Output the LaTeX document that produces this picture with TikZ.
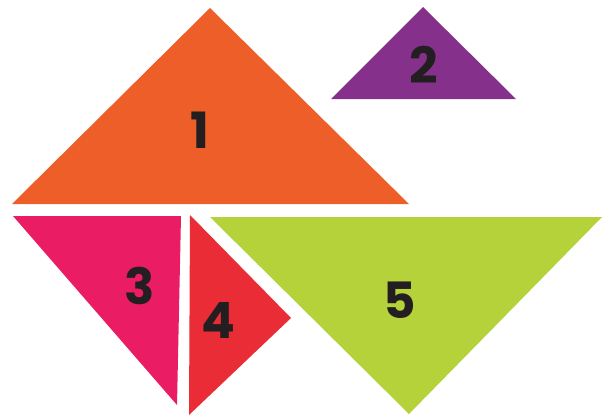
\documentclass[tikz,border=0pt]{standalone}
\usepackage{fontspec}
\setmainfont{Poppins}
\definecolor{tOrange}{HTML}{EE5E29}
\definecolor{tPurple}{HTML}{85318B}
\definecolor{tPink}{HTML}{E91C64}
\definecolor{tRed}{HTML}{E92C36}
\definecolor{tGreen}{HTML}{B5D23A}
\definecolor{tText}{HTML}{231F20}
\begin{document}
\begin{tikzpicture}[x=1pt,y=-1pt,
  num/.style={text=tText,font=\fontsize{50}{50}\selectfont\bfseries,inner sep=0pt}]
\useasboundingbox (0,0) rectangle (602,416);
\fill[tOrange] (210,8) -- (409,204) -- (12,204) -- cycle;
\fill[tPurple] (423,7) -- (516,99) -- (331,99) -- cycle;
\fill[tPink] (13,216) -- (181,216) -- (177,405) -- cycle;
\fill[tRed] (190,215) -- (291,318) -- (189,415) -- cycle;
\fill[tGreen] (210,217) -- (602,217) -- (409,414) -- cycle;
\node[num] (n1) at (200,130.5) {1};
\node[num] (n2) at (424,64.5) {2};
\node[num] (n3) at (140,286) {3};
\node[num] (n4) at (218,320) {4};
\node[num] (n5) at (400,300.5) {5};
\end{tikzpicture}
\end{document}
